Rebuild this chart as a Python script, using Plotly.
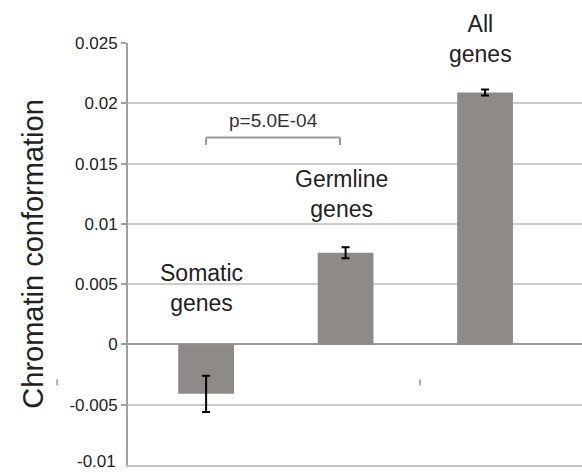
import plotly.graph_objects as go

categories = ["Somatic genes", "Germline genes", "All genes"]
values = [-0.0041, 0.0076, 0.0209]
errors = [0.0015, 0.00045, 0.00025]
label_text = ["Somatic<br>genes", "Germline<br>genes", "All<br>genes"]
label_y = [0.00468, 0.0125, 0.0253]
tick_vals = [-0.01, -0.005, 0, 0.005, 0.01, 0.015, 0.02, 0.025]
tick_text = ["-0.01", "-0.005", "0", "0.005", "0.01", "0.015", "0.02", "0.025"]
p_text = "p=5.0E-04"
y_range = [-0.01, 0.025]

FONT = "Liberation Sans, Arial, Helvetica, sans-serif"
xs = list(range(len(categories)))


def to_paper(v):
    return (v - y_range[0]) / (y_range[1] - y_range[0])


fig = go.Figure()
fig.add_trace(go.Bar(
    x=xs, y=values, width=0.40,
    marker=dict(color="#8e8a87", line=dict(width=0)),
    error_y=dict(type="data", array=errors, visible=True, color="#000000",
                 thickness=2, width=4),
))

annotations = []
for i, (t, yv) in enumerate(zip(label_text, label_y)):
    annotations.append(dict(x=xs[i] - 0.03, y=to_paper(yv), xref="x", yref="paper", text=t,
                            showarrow=False, xanchor="center", yanchor="middle",
                            font=dict(family=FONT, size=23, color="#222222")))
annotations.append(dict(x=0.48, y=0.0186, xref="x", yref="y", text=p_text,
                        showarrow=False, xanchor="center", yanchor="middle",
                        font=dict(family=FONT, size=19, color="#333333")))
annotations.append(dict(x=-0.21, y=0.5, xref="paper", yref="paper",
                        text="Chromatin conformation", textangle=-90,
                        showarrow=False, xanchor="center", yanchor="middle",
                        font=dict(family=FONT, size=29, color="#222222")))
# bottom tick label, placed by hand so it stays inside the figure
annotations.append(dict(x=-0.0225, y=0.008, xref="paper", yref="paper", text=tick_text[0],
                        showarrow=False, xanchor="right", yanchor="middle",
                        font=dict(family=FONT, size=17, color="#222222")))

shapes = [
    dict(type="line", xref="x", yref="y", x0=0.0, x1=0.96, y0=0.01716, y1=0.01716,
         line=dict(color="#999999", width=2)),
    dict(type="line", xref="x", yref="y", x0=0.0, x1=0.0, y0=0.01716, y1=0.01655,
         line=dict(color="#999999", width=2)),
    dict(type="line", xref="x", yref="y", x0=0.96, x1=0.96, y0=0.01716, y1=0.01655,
         line=dict(color="#999999", width=2)),
    dict(type="line", xref="paper", yref="paper", x0=-0.156, x1=-0.156, y0=0.189, y1=0.203,
         line=dict(color="#aaaaaa", width=2)),
    dict(type="line", xref="paper", yref="paper", x0=0.643, x1=0.643, y0=0.189, y1=0.203,
         line=dict(color="#aaaaaa", width=2)),
]

fig.update_layout(
    width=582, height=473,
    margin=dict(l=128, r=0, t=43, b=8),
    paper_bgcolor="white", plot_bgcolor="white",
    showlegend=False,
    annotations=annotations,
    shapes=shapes,
    xaxis=dict(range=[-0.56, 2.695], showgrid=False, zeroline=False,
               showticklabels=False, ticks="", showline=True,
               linecolor="#c4c4c4", linewidth=2),
    yaxis=dict(range=y_range, tickvals=tick_vals[1:], ticktext=tick_text[1:],
               showgrid=True, gridcolor="#cccccc", gridwidth=2,
               zeroline=True, zerolinecolor="#999999", zerolinewidth=2,
               showline=True, linecolor="#a0a0a0", linewidth=2,
               ticks="outside", ticklen=5, tickcolor="#a0a0a0", tickwidth=2,
               tickfont=dict(family=FONT, size=17, color="#222222")),
)

fig.write_html("out.html")
